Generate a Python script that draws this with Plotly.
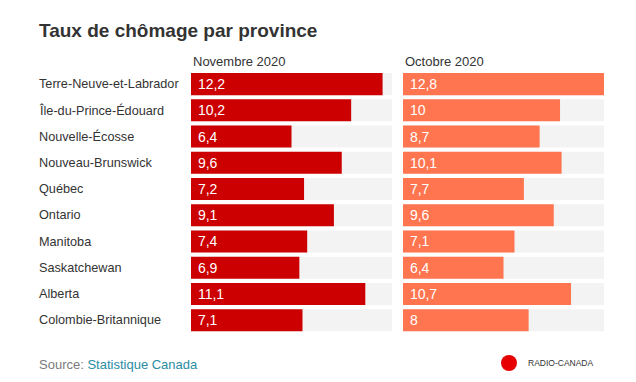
import plotly.graph_objects as go

provinces = ["Terre-Neuve-et-Labrador", "Île-du-Prince-Édouard", "Nouvelle-Écosse",
             "Nouveau-Brunswick", "Québec", "Ontario", "Manitoba", "Saskatchewan",
             "Alberta", "Colombie-Britannique"]
nov_2020 = [12.2, 10.2, 6.4, 9.6, 7.2, 9.1, 7.4, 6.9, 11.1, 7.1]
oct_2020 = [12.8, 10.0, 8.7, 10.1, 7.7, 9.6, 7.1, 6.4, 10.7, 8.0]
panel_titles = ["Novembre 2020", "Octobre 2020"]
title = "Taux de chômage par province"
source_label = "Source: "
source_name = "Statistique Canada"

FONT = "Liberation Sans, Arial, sans-serif"
RED = "#CC0000"
ORANGE = "#FF7550"
GREY = "#F3F3F3"

# page body has an 8px margin; positions below are given in window pixels
OFF = 8
W, H = 628, 374


def px(x):
    return (x - OFF) / W


def py(y):
    return 1 - (y - OFF) / H


vmax = max(max(nov_2020), max(oct_2020))


def fmt(v):
    return f"{v:g}".replace(".", ",")


fig = go.Figure()
for i, (vals, col) in enumerate([(nov_2020, RED), (oct_2020, ORANGE)]):
    xa = "x" if i == 0 else "x2"
    fig.add_trace(go.Bar(
        y=provinces, x=[vmax] * len(provinces), orientation="h",
        marker=dict(color=GREY, line=dict(width=0)), xaxis=xa, yaxis="y",
        hoverinfo="skip", showlegend=False))
    fig.add_trace(go.Bar(
        y=provinces, x=vals, orientation="h",
        marker=dict(color=col, line=dict(width=0)), xaxis=xa, yaxis="y",
        text=[" " + fmt(v) for v in vals], textposition="inside",
        insidetextanchor="start", constraintext="none",
        textfont=dict(family=FONT, size=14, color="white"),
        showlegend=False))

dom_left = [px(191), px(392)]
dom_right = [px(403), px(604)]
fig.update_layout(
    width=W, height=H, margin=dict(l=0, r=0, t=0, b=0),
    paper_bgcolor="white", plot_bgcolor="white",
    barmode="overlay", bargap=0.16,
    font=dict(family=FONT, color="#333333"),
    xaxis=dict(domain=dom_left, range=[0, vmax], visible=False, fixedrange=True),
    xaxis2=dict(domain=dom_right, range=[0, vmax], visible=False, fixedrange=True),
    yaxis=dict(domain=[py(333.3), py(71)], autorange="reversed",
               visible=False, fixedrange=True),
)

annotations = []
annotations.append(dict(text=f"<b>{title}</b>", xref="paper", yref="paper",
                        x=px(37), y=py(30), xanchor="left", yanchor="middle",
                        showarrow=False, font=dict(size=19, color="#333333", family=FONT)))
for name, dom in zip(panel_titles, [dom_left, dom_right]):
    annotations.append(dict(text=name, xref="paper", yref="paper",
                            x=dom[0], y=py(61), xanchor="left", yanchor="middle",
                            showarrow=False, font=dict(size=13, color="#333333", family=FONT)))
for p in provinces:
    annotations.append(dict(text=p, xref="paper", yref="y", x=px(37), y=p,
                            xanchor="left", yanchor="middle", showarrow=False,
                            font=dict(size=12.7, color="#333333", family=FONT)))
annotations.append(dict(
    text=f"<span style='color:#7a7a7a'>{source_label}</span>"
         f"<span style='color:#2b8ca3'>{source_name}</span>",
    xref="paper", yref="paper", x=px(37), y=py(364),
    xanchor="left", yanchor="middle", showarrow=False,
    font=dict(size=13, family=FONT)))
annotations.append(dict(text="RADIO-CANADA", xref="paper", yref="paper",
                        x=px(526), y=py(363), xanchor="left", yanchor="middle",
                        showarrow=False, font=dict(size=8.5, color="#333333", family=FONT)))
fig.update_layout(annotations=annotations)

fig.add_shape(type="circle", xref="paper", yref="paper",
              x0=px(501), x1=px(517), y0=py(371), y1=py(355),
              fillcolor="#E60000", line=dict(width=0))

fig.write_html("out.html")
